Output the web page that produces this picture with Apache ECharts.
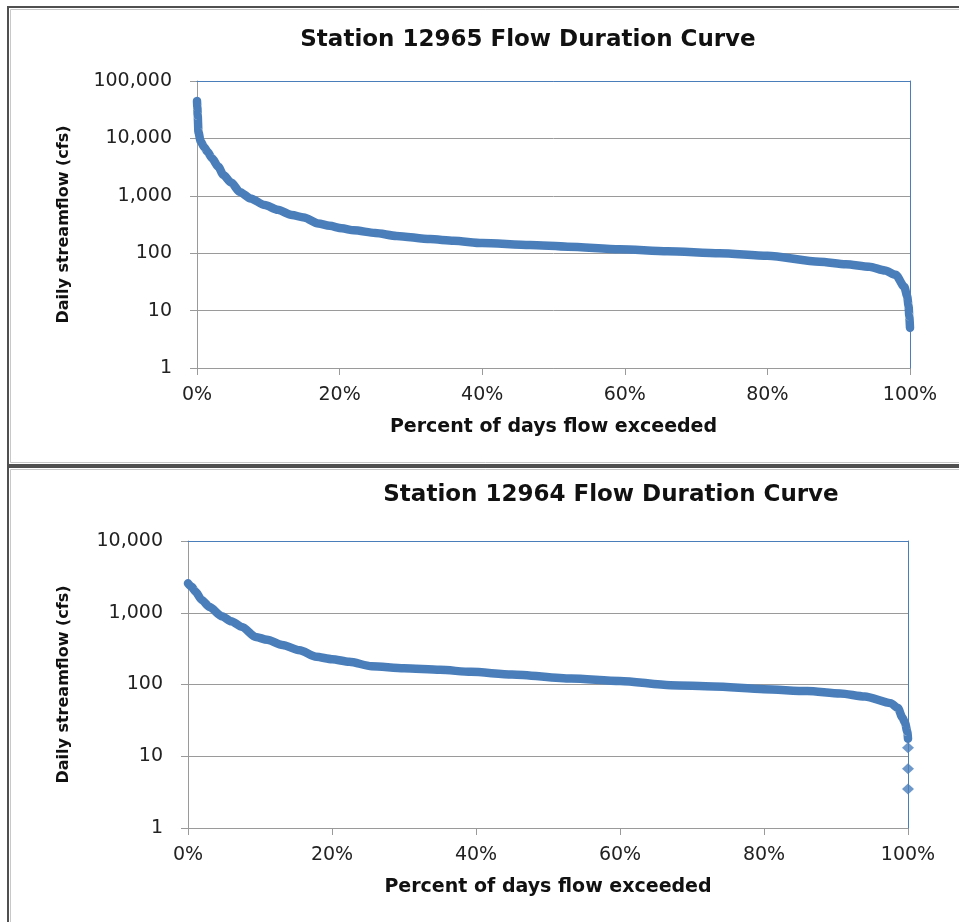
<!DOCTYPE html>
<html>
<head>
<meta charset="utf-8">
<script src="https://cdn.jsdelivr.net/npm/echarts@6/dist/echarts.min.js"></script>
<style>
html,body{margin:0;padding:0;background:#fff;}
#chart{width:959px;height:922px;}
</style>
</head>
<body>
<div id="chart"></div>
<script>
// Station 12965 (top chart)
const pct12965  = [0, 0.05, 0.1, 0.2, 0.5, 1.0, 1.5, 2.1, 3.0, 3.7, 4.8, 6.0, 7.5, 9.5, 11.3, 13.3, 15, 17, 18.6, 20.3, 22, 25, 28, 32.7, 36, 40, 46.7, 52, 59.3, 66, 73.3, 80, 87.3, 91, 94.3, 96.5, 98, 99.2, 99.6, 99.8, 99.9, 100];
const flow12965 = [45000, 35000, 25000, 13000, 9000, 7000, 5800, 4500, 3200, 2300, 1700, 1170, 900, 690, 570, 462, 420, 330, 300, 272, 250, 225, 200, 176, 165, 150, 139, 130, 117, 108, 100, 90, 71, 64, 58, 50, 42, 26, 18, 12, 8, 5];

// Station 12964 (bottom chart)
const pct12964  = [0, 0.5, 1.0, 1.9, 3.0, 4.7, 6.0, 7.5, 9.4, 11, 13.1, 15.5, 17.8, 20, 22.4, 25.5, 30, 35, 39.3, 45, 53.2, 60, 67, 73, 80, 86, 90.6, 94, 97.6, 98.6, 99.2, 99.6, 99.9, 100];
const flow12964 = [2570, 2300, 2000, 1510, 1200, 895, 760, 635, 460, 420, 355, 300, 243, 225, 207, 180, 168, 160, 150, 138, 121, 112, 98, 94, 86, 81, 75, 68, 55, 47, 35, 29, 22, 17.5];
// isolated lowest-flow points of station 12964
const tailPct12964  = [100, 100, 100];
const tailFlow12964 = [13.1, 6.7, 3.5];

const xTicks = [0, 20, 40, 60, 80, 100];

const titles = ['Station 12965 Flow Duration Curve', 'Station 12964 Flow Duration Curve'];
const xName = 'Percent of days flow exceeded';
const yName = 'Daily streamflow (cfs)';

const BLUE = '#4a7ebb';
const GRID = '#9a9a9a';
const FONT = 'DejaVu Sans';

function zip(a, b) { return a.map((v, i) => [v, b[i]]); }

function xMain(gi) {
  return {
    type: 'value', gridIndex: gi, min: xTicks[0], max: xTicks[xTicks.length - 1], interval: 20,
    axisLine: { show: true, onZero: false, lineStyle: { color: GRID, width: 1 } },
    axisTick: { show: true, length: 7, lineStyle: { color: GRID } },
    splitLine: { show: false },
    axisLabel: { formatter: v => v + '%', fontFamily: FONT, fontSize: 19, color: '#222', margin: 18 },
    name: xName, nameLocation: 'middle', nameGap: 50,
    nameTextStyle: { fontFamily: FONT, fontWeight: 'bold', fontSize: 19, color: '#111' },
    z: 2
  };
}
function xTop(gi) {
  return {
    type: 'value', gridIndex: gi, min: 0, max: 100, position: 'top',
    axisLine: { show: true, onZero: false, lineStyle: { color: BLUE, width: 1 } },
    axisTick: { show: false }, axisLabel: { show: false }, splitLine: { show: false }, z: 3
  };
}
function yMain(gi, max, gap) {
  return {
    type: 'log', logBase: 10, gridIndex: gi, min: 1, max: max,
    axisLine: { show: true, onZero: false, lineStyle: { color: GRID, width: 1 } },
    axisTick: { show: true, length: 7, lineStyle: { color: GRID } },
    splitLine: { show: true, lineStyle: { color: GRID, width: 1 } },
    axisLabel: { formatter: v => Math.round(v).toLocaleString('en-US'), fontFamily: FONT, fontSize: 19, color: '#222', margin: 25 },
    name: yName, nameLocation: 'middle', nameRotate: 90, nameGap: gap,
    nameTextStyle: { fontFamily: FONT, fontWeight: 'bold', fontSize: 16, color: '#111' },
    z: 2
  };
}
function yRight(gi) {
  return {
    type: 'value', gridIndex: gi, position: 'right', min: 0, max: 1,
    axisLine: { show: true, onZero: false, lineStyle: { color: BLUE, width: 1 } },
    axisTick: { show: false }, axisLabel: { show: false }, splitLine: { show: false }, z: 3
  };
}

const chart = echarts.init(document.getElementById('chart'), null, { renderer: 'canvas' });
chart.setOption({
  backgroundColor: '#fff',
  animation: false,
  graphic: [
    { type: 'rect', shape: { x: 8, y: 7, width: 1000, height: 458 }, style: { fill: 'none', stroke: '#505050', lineWidth: 2 }, silent: true, z: -10 },
    { type: 'rect', shape: { x: 10.5, y: 9.5, width: 1000, height: 453 }, style: { fill: 'none', stroke: '#c8c8c8', lineWidth: 1 }, silent: true, z: -10 },
    { type: 'rect', shape: { x: 8, y: 467, width: 1000, height: 500 }, style: { fill: 'none', stroke: '#505050', lineWidth: 2 }, silent: true, z: -10 },
    { type: 'rect', shape: { x: 10.5, y: 469.5, width: 1000, height: 500 }, style: { fill: 'none', stroke: '#c8c8c8', lineWidth: 1 }, silent: true, z: -10 },
    { type: 'text', style: { x: 528, y: 40, text: titles[0], textAlign: 'center', textVerticalAlign: 'middle', font: 'bold 23px "DejaVu Sans"', fill: '#111' }, z: 10 },
    { type: 'text', style: { x: 611, y: 495, text: titles[1], textAlign: 'center', textVerticalAlign: 'middle', font: 'bold 23px "DejaVu Sans"', fill: '#111' }, z: 10 }
  ],
  grid: [
    { left: 197, right: 49, top: 81, height: 287, containLabel: false },
    { left: 188, right: 51, top: 541, height: 287, containLabel: false }
  ],
  xAxis: [xMain(0), xTop(0), xMain(1), xTop(1)],
  yAxis: [yMain(0, 100000, 125), yRight(0), yMain(1, 10000, 116), yRight(1)],
  series: [
    {
      type: 'line', xAxisIndex: 0, yAxisIndex: 0, data: zip(pct12965, flow12965),
      showSymbol: false, symbol: 'none', smooth: 0.25, smoothMonotone: 'x',
      lineStyle: { color: BLUE, width: 8.5, cap: 'round', join: 'round' }, z: 5
    },
    {
      type: 'line', xAxisIndex: 2, yAxisIndex: 2, data: zip(pct12964, flow12964),
      showSymbol: false, symbol: 'none', smooth: 0.25, smoothMonotone: 'x',
      lineStyle: { color: BLUE, width: 8.5, cap: 'round', join: 'round' }, z: 5
    },
    {
      type: 'scatter', xAxisIndex: 2, yAxisIndex: 2, data: zip(tailPct12964, tailFlow12964),
      symbol: 'diamond', symbolSize: [12, 11], itemStyle: { color: BLUE }, z: 5
    }
  ]
});
</script>
</body>
</html>
